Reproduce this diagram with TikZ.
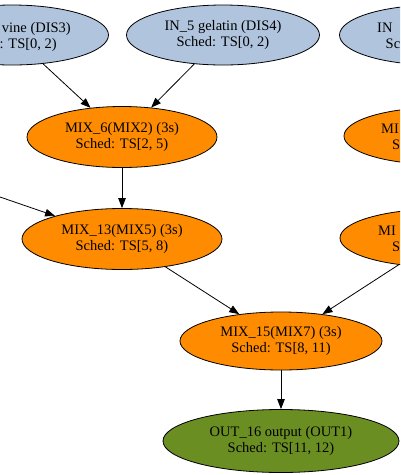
\documentclass[tikz,border=0pt]{standalone}
\usepackage{fontspec}
\setmainfont{Liberation Serif}
\usepackage{tikz}
\usetikzlibrary{shapes.geometric,arrows.meta}
\definecolor{inblue}{RGB}{176,196,222}
\definecolor{mixorange}{RGB}{255,140,0}
\definecolor{outgreen}{RGB}{107,142,35}
\tikzset{>={Triangle[length=10pt,width=7.5pt]}}
\tikzstyle{op} = [ellipse, draw, line width=0.8pt, inner sep=0pt,
    text centered, align=center, font=\fontsize{14.5}{16}\selectfont]
\tikzstyle{dis} = [op, fill=inblue, minimum width=193pt, minimum height=60pt]
\tikzstyle{mix} = [op, fill=mixorange, minimum height=61pt]
\tikzstyle{outp} = [op, fill=outgreen, minimum width=236pt, minimum height=63pt]
\tikzstyle{frag} = [inner sep=0pt, font=\fontsize{14.5}{16}\selectfont]
\tikzstyle{link} = [->, line width=0.8pt]

\begin{document}
\begin{tikzpicture}[x=1pt, y=-1pt]
  \path[use as bounding box, clip] (0,0) rectangle (400,475);

  % first rank: inputs
  \node [dis] (d3) at (12,35) {};
  \node [frag, anchor=base east] (d3a) at (71,32) {vine (DIS3)};
  \node [frag, anchor=base east] (d3b) at (57,48) {: TS[0, 2)};
  \node [dis] (d4) at (223,35) {IN\_5 gelatin (DIS4)\\Sched: TS[0, 2)};
  \node [dis] (d5) at (436,35) {};
  \node [frag, anchor=base west] (d5a) at (377,32) {IN};
  \node [frag, anchor=base west] (d5b) at (385.5,48) {Sc};

  % mixes
  \node [mix, minimum width=190pt] (m6) at (122,137) {MIX\_6(MIX2) (3s)\\Sched: TS[2, 5)};
  \node [mix, minimum width=190pt, minimum height=57pt] (mr2) at (439,136) {};
  \node [frag, anchor=base west] (mr2a) at (381,133) {MI};
  \node [frag, anchor=base west] (mr2b) at (392,149) {S};

  \node [mix, minimum width=200pt] (m13) at (122,239) {MIX\_13(MIX5) (3s)\\Sched: TS[5, 8)};
  \node [mix, minimum width=200pt, minimum height=58pt] (mr3) at (440,238) {};
  \node [frag, anchor=base west] (mr3a) at (378,235) {MI};
  \node [frag, anchor=base west] (mr3b) at (392,251) {S};
  \coordinate (lin) at (0,197);

  \node [mix, minimum width=202pt, minimum height=58pt] (m15) at (281,341) {MIX\_15(MIX7) (3s)\\Sched: TS[8, 11)};

  % output
  \node [outp] (o16) at (281,441) {OUT\_16 output (OUT1)\\Sched: TS[11, 12)};

  \path[link] (d3) edge (m6);
  \path[link] (d4) edge (m6);
  \path[link] (m6) edge (m13);
  \path[link] (lin) edge (m13);
  \path[link] (m13) edge (m15);
  \path[link] (mr3) edge (m15);
  \path[link] (m15) edge (o16);
\end{tikzpicture}
\end{document}
